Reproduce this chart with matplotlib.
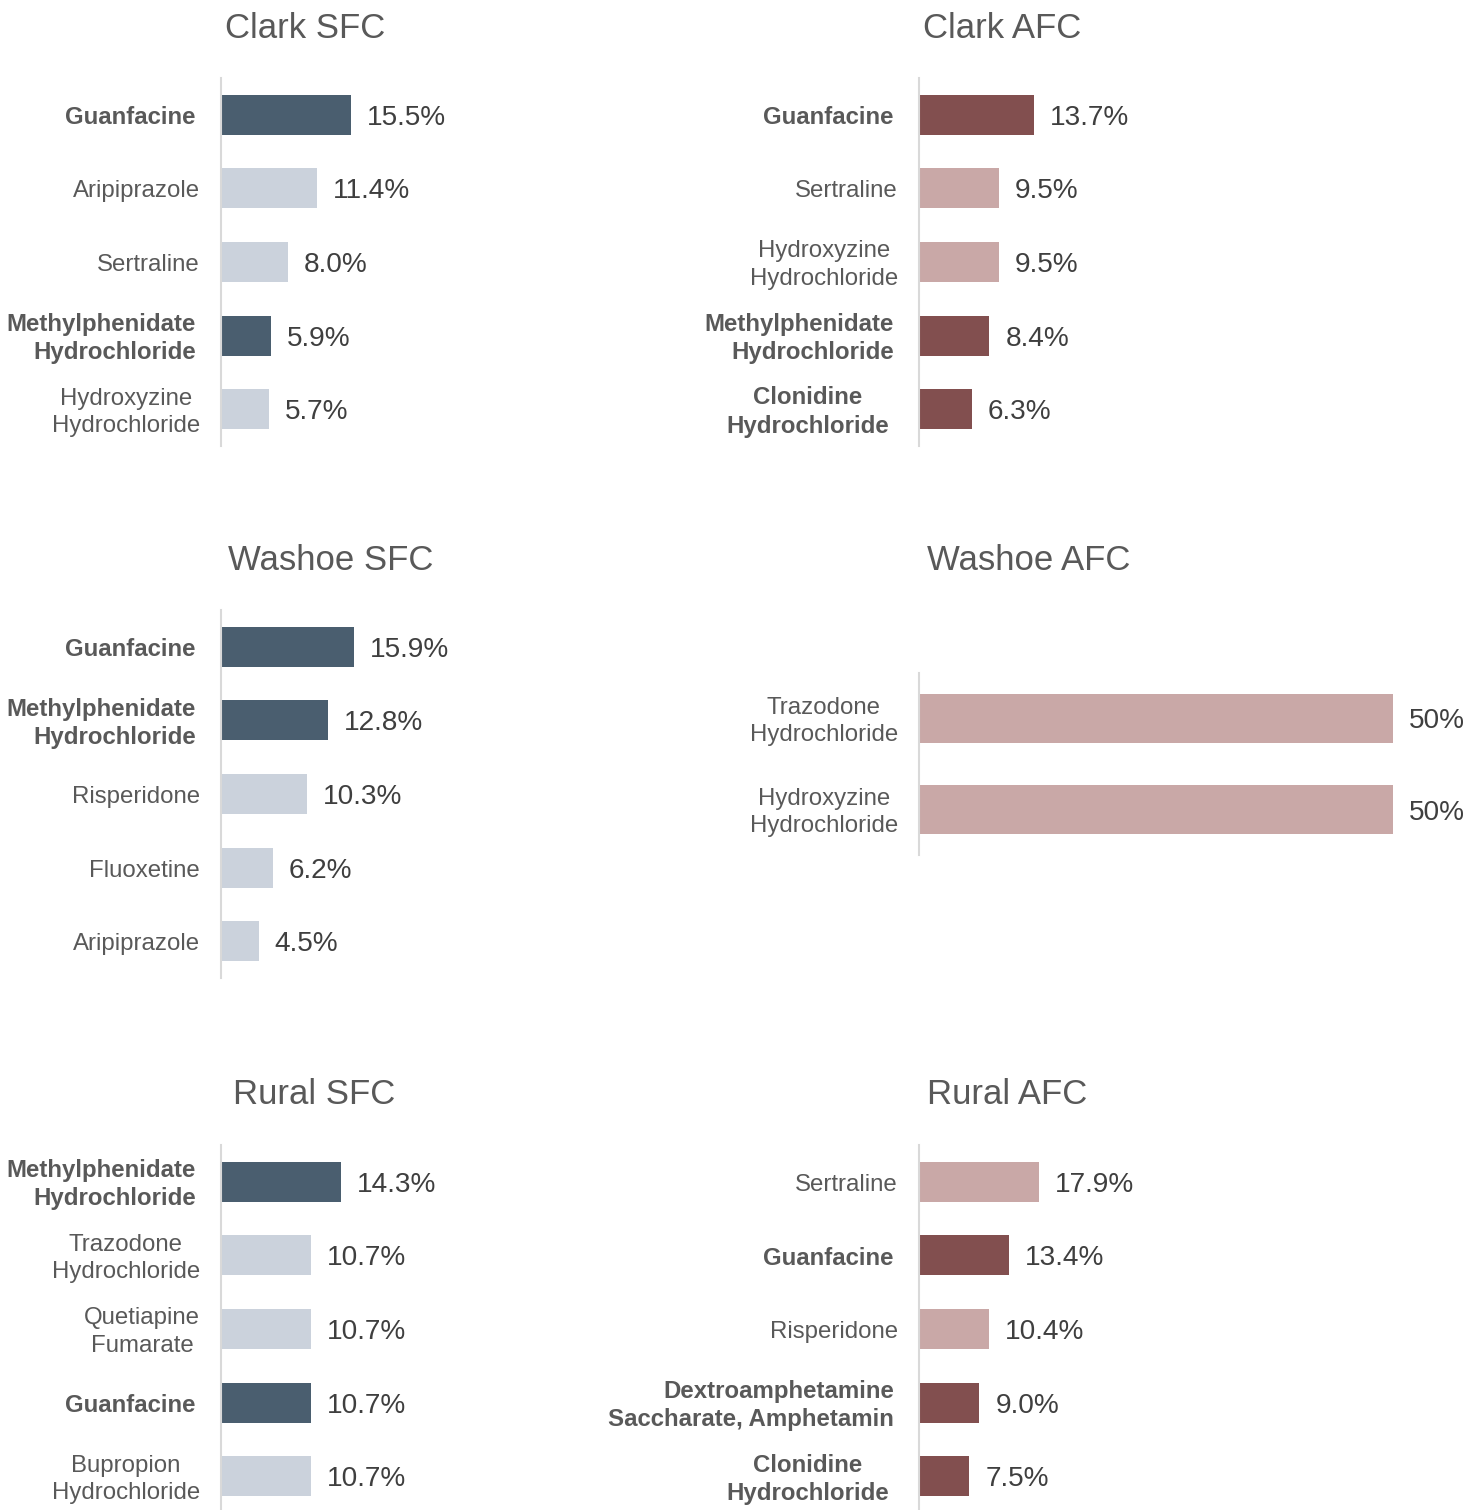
import matplotlib.pyplot as plt

plt.rcParams['font.family'] = ['Liberation Sans', 'DejaVu Sans']

# data: top 5 drugs per region / care type, share in %
clark_sfc_drugs = ["Guanfacine", "Aripiprazole", "Sertraline",
                   "Methylphenidate Hydrochloride", "Hydroxyzine Hydrochloride"]
clark_sfc_pct = [15.5, 11.4, 8.0, 5.9, 5.7]

clark_afc_drugs = ["Guanfacine", "Sertraline", "Hydroxyzine Hydrochloride",
                   "Methylphenidate Hydrochloride", "Clonidine Hydrochloride"]
clark_afc_pct = [13.7, 9.5, 9.5, 8.4, 6.3]

washoe_sfc_drugs = ["Guanfacine", "Methylphenidate Hydrochloride", "Risperidone",
                    "Fluoxetine", "Aripiprazole"]
washoe_sfc_pct = [15.9, 12.8, 10.3, 6.2, 4.5]

washoe_afc_drugs = ["Trazodone Hydrochloride", "Hydroxyzine Hydrochloride"]
washoe_afc_pct = [50, 50]

rural_sfc_drugs = ["Methylphenidate Hydrochloride", "Trazodone Hydrochloride",
                   "Quetiapine Fumarate", "Guanfacine", "Bupropion Hydrochloride"]
rural_sfc_pct = [14.3, 10.7, 10.7, 10.7, 10.7]

rural_afc_drugs = ["Sertraline", "Guanfacine", "Risperidone",
                   "Dextroamphetamine Saccharate, Amphetamin", "Clonidine Hydrochloride"]
rural_afc_pct = [17.9, 13.4, 10.4, 9.0, 7.5]

# ADHD medications are highlighted
highlighted = {"Guanfacine", "Methylphenidate Hydrochloride", "Clonidine Hydrochloride",
               "Dextroamphetamine Saccharate, Amphetamin"}

SFC_DARK, SFC_LIGHT = '#4a5e6f', '#cbd2dc'
AFC_DARK, AFC_LIGHT = '#824f4f', '#c9a8a7'
TEXT = '#595959'
VALUE_TEXT = '#3f3f3f'

W, H = 1484, 1510
fig = plt.figure(figsize=(W / 100, H / 100), dpi=100)

# title, title pos, x of axis, top/bottom of axis (pixels), px per %, decimals, colours
panels = [
    ("Clark SFC", clark_sfc_drugs, clark_sfc_pct, 225, 28, 221, 78, 446, 8.39, 1, SFC_DARK, SFC_LIGHT),
    ("Clark AFC", clark_afc_drugs, clark_afc_pct, 923, 28, 919, 78, 446, 8.39, 1, AFC_DARK, AFC_LIGHT),
    ("Washoe SFC", washoe_sfc_drugs, washoe_sfc_pct, 228, 561, 221, 610, 978, 8.38, 1, SFC_DARK, SFC_LIGHT),
    ("Washoe AFC", washoe_afc_drugs, washoe_afc_pct, 927, 561, 919, 673, 855, 9.48, 0, AFC_DARK, AFC_LIGHT),
    ("Rural SFC", rural_sfc_drugs, rural_sfc_pct, 233, 1095, 221, 1145, 1513, 8.39, 1, SFC_DARK, SFC_LIGHT),
    ("Rural AFC", rural_afc_drugs, rural_afc_pct, 927, 1095, 919, 1145, 1513, 6.71, 1, AFC_DARK, AFC_LIGHT),
]

AX_W = 520
for (title, drugs, pct, tx, ty, x0, y0, y1, scale, dec, dark, light) in panels:
    ax = fig.add_axes([x0 / W, 1 - y1 / H, AX_W / W, (y1 - y0) / H])
    n = len(drugs)
    ys = list(range(n))
    colors = [dark if d in highlighted else light for d in drugs]
    ax.barh(ys, pct, height=0.545, color=colors, zorder=2)
    ax.set_xlim(0, AX_W / scale)
    ax.set_ylim(n - 0.5, -0.5)

    for s in ('top', 'right', 'bottom'):
        ax.spines[s].set_visible(False)
    ax.spines['left'].set_color('#d9d9d9')
    ax.spines['left'].set_linewidth(1.5)
    ax.set_xticks([])
    ax.set_yticks([])

    for y, d, v in zip(ys, drugs, pct):
        bold = d in highlighted
        label = d.replace(" ", "\n", 1)
        centered_bold = bold and d.startswith("Clonidine")
        align = 'right' if bold and not centered_bold else 'center'
        pad = -30 if centered_bold else (-25 if bold else -21)
        ax.annotate(label, xy=(0, y), xycoords=('axes fraction', 'data'),
                    xytext=(pad, -3), textcoords='offset pixels',
                    ha='right', va='center', multialignment=align,
                    fontsize=17.3, fontweight='bold' if bold else 'normal',
                    color=TEXT, linespacing=1.3)
        ax.annotate(f"{v:.{dec}f}%", xy=(v, y), xytext=(16, -3),
                    textcoords='offset pixels', ha='left', va='center',
                    fontsize=20.2, color=VALUE_TEXT)

    fig.text(tx / W, 1 - ty / H, title, ha='left', va='center',
             fontsize=25, color=TEXT)

fig.savefig('out.png', dpi=100, facecolor='white')
